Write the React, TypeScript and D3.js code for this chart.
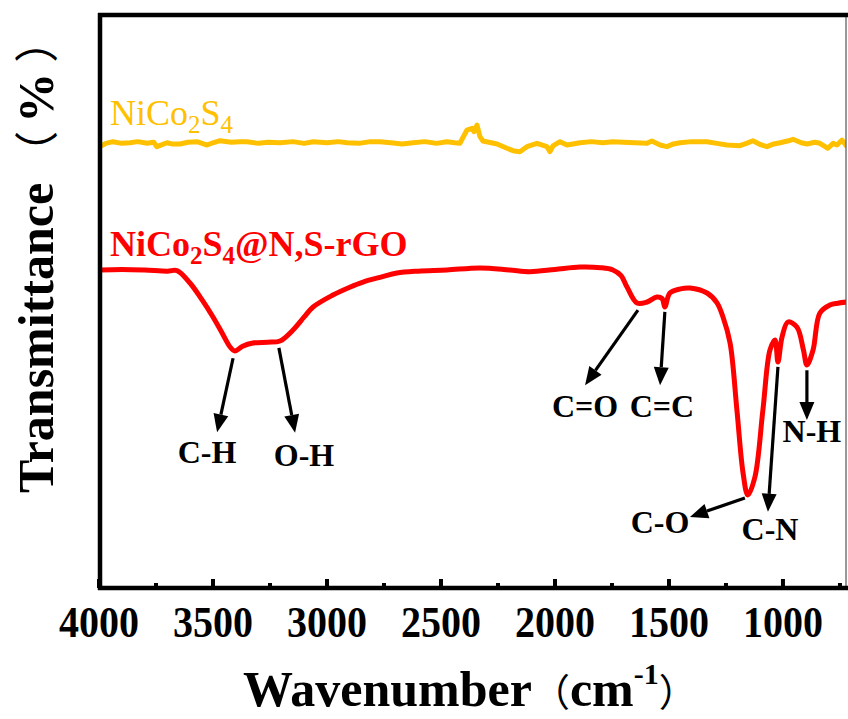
import React from "react";
import * as d3 from "d3";

const W = 848;
const H = 719;
const margin = { left: 100, right: 846, top: 15, bottom: 588 };

const majorTicks = [4000, 3500, 3000, 2500, 2000, 1500, 1000];
const minorTicks = [3750, 3250, 2750, 2250, 1750, 1250, 750];

// NiCo2S4 (yellow)
const yellowWn = [3996, 3970, 3939, 3900, 3864, 3830, 3789, 3760, 3746, 3702, 3680, 3645, 3610, 3570, 3526, 3500, 3469, 3420, 3380, 3351, 3300, 3260, 3206, 3150, 3100, 3061, 3000, 2950, 2912, 2860, 2810, 2768, 2720, 2670, 2623, 2570, 2520, 2474, 2440, 2417, 2386, 2364, 2355, 2342, 2329, 2316, 2280, 2254, 2211, 2184, 2154, 2123, 2079, 2035, 2022, 2009, 1978, 1947, 1890, 1840, 1790, 1746, 1700, 1650, 1596, 1575, 1539, 1509, 1480, 1452, 1400, 1333, 1290, 1246, 1189, 1160, 1132, 1100, 1070, 1040, 1013, 980, 956, 920, 895, 860, 838, 803, 780, 763, 741, 719];
const yellowT = [77.02, 77.6, 77.89, 77.6, 77.71, 77.9, 77.61, 77.8, 77.02, 77.71, 77.5, 77.49, 77.8, 77.89, 77.31, 77.7, 78.06, 77.8, 77.9, 77.89, 77.6, 77.8, 77.71, 77.9, 77.6, 77.89, 77.7, 77.9, 77.71, 77.6, 77.9, 77.89, 77.7, 77.5, 77.71, 77.9, 77.6, 77.89, 77.7, 77.61, 79.93, 80.23, 79.63, 80.8, 78.76, 78.01, 77.7, 77.49, 76.74, 76.32, 76.14, 77.02, 77.61, 77.02, 76.14, 77.14, 77.89, 77.31, 77.71, 77.9, 77.7, 77.89, 77.8, 77.7, 77.61, 78.01, 77.31, 77.02, 77.5, 77.71, 77.9, 77.89, 77.6, 77.31, 77.19, 77.6, 78.06, 77.4, 77.02, 77.5, 77.71, 78.0, 78.31, 77.7, 77.49, 77.8, 77.61, 76.74, 77.6, 77.31, 78.18, 77.02];

// NiCo2S4@N,S-rGO (red)
const redWn = [3996, 3900, 3800, 3700, 3658, 3601, 3550, 3500, 3460, 3425, 3404, 3370, 3325, 3260, 3206, 3149, 3100, 3061, 2974, 2900, 2842, 2760, 2693, 2600, 2474, 2329, 2200, 2110, 2000, 1890, 1800, 1746, 1710, 1684, 1640, 1596, 1553, 1530, 1518, 1496, 1450, 1408, 1333, 1290, 1263, 1232, 1202, 1175, 1154, 1123, 1088, 1057, 1035, 1022, 1004, 978, 939, 910, 895, 868, 838, 794, 760, 719];
const redT = [55.5, 55.6, 55.5, 55.3, 55.4, 53.23, 50.4, 47.29, 44.5, 42.06, 41.36, 42.2, 42.76, 42.9, 43.11, 45.03, 47.3, 49.04, 51.13, 52.5, 53.4, 54.3, 54.97, 55.3, 55.5, 55.85, 55.5, 55.2, 55.6, 56.02, 55.9, 55.5, 54.5, 52.53, 49.74, 49.91, 50.79, 50.5, 49.04, 51.48, 52.2, 52.36, 51.48, 49.8, 47.29, 42.76, 31.06, 20.07, 16.23, 19.37, 31.06, 41.54, 43.28, 39.44, 43.8, 46.42, 45.55, 41.5, 38.92, 41.54, 47.99, 49.39, 49.7, 49.91];

// annotations
const annoLabels = ["C-H", "O-H", "C=O", "C=C", "C-O", "C-N", "N-H"];
const annoFromWn = [3412, 3211, 1636, 1518, 1167, 1022, 895];
const annoFromT = [40.1, 41.9, 48.5, 48.2, 15.7, 38.6, 38.0];
const annoToWn = [3482, 3140, 1868, 1539, 1408, 1066, 895];
const annoToT = [27.2, 27.1, 35.4, 35.4, 12.4, 13.3, 29.3];
const annoLabelWn = [3526, 3101, 1868, 1531, 1539, 1057, 873];
const annoLabelT = [21.8, 21.3, 29.8, 29.8, 9.6, 8.4, 25.5];

const YELLOW = "#FFC000";
const RED = "#FF0000";
const FONT = "'Liberation Serif', 'Times New Roman', serif";
const CJK = "'Noto Sans CJK SC'";

export default function App() {
  const x = d3.scaleLinear().domain([4000, 720]).range([99, 846.8]);
  const y = d3.scaleLinear().domain([0, 100]).range([margin.bottom, margin.top]);

  const yellowData = yellowWn.map((w, i) => [w, yellowT[i]] as [number, number]);
  const redData = redWn.map((w, i) => [w, redT[i]] as [number, number]);

  const lineLin = d3.line<[number, number]>().x((d) => x(d[0])).y((d) => y(d[1]));
  const lineSmooth = d3
    .line<[number, number]>()
    .x((d) => x(d[0]))
    .y((d) => y(d[1]))
    .curve(d3.curveCatmullRom.alpha(0.5));

  const arrows = annoLabels.map((lab, i) => {
    const x1 = x(annoFromWn[i]);
    const y1 = y(annoFromT[i]);
    const x2 = x(annoToWn[i]);
    const y2 = y(annoToT[i]);
    const ang = Math.atan2(y2 - y1, x2 - x1);
    const hl = 18;
    const hw = 7.5;
    const bx = x2 - hl * Math.cos(ang);
    const by = y2 - hl * Math.sin(ang);
    const px = -Math.sin(ang);
    const py = Math.cos(ang);
    const head = `M${x2},${y2}L${bx + hw * px},${by + hw * py}L${bx - hw * px},${by - hw * py}Z`;
    return { lab, x1, y1, bx, by, head, lx: x(annoLabelWn[i]), ly: y(annoLabelT[i]) };
  });

  return (
    <svg
      width={W}
      height={H}
      style={{ position: "absolute", left: 0, top: 0, background: "#fff" }}
      fontFamily={FONT}
    >
      <rect x={0} y={0} width={W} height={H} fill="#fff" />
      <defs>
        <clipPath id="plotclip">
          <rect x={margin.left} y={margin.top} width={margin.right - margin.left} height={margin.bottom - margin.top} />
        </clipPath>
      </defs>

      {/* series */}
      <g clipPath="url(#plotclip)">
        <path d={lineLin(yellowData) || ""} fill="none" stroke={YELLOW} strokeWidth={5} strokeLinejoin="round" />
        <path d={lineSmooth(redData) || ""} fill="none" stroke={RED} strokeWidth={5} strokeLinejoin="round" />
      </g>

      {/* frame */}
      <line x1={margin.right} x2={margin.right} y1={margin.top} y2={margin.bottom} stroke="#555" strokeWidth={1.2} />
      <line x1={margin.left - 2} x2={W} y1={margin.top} y2={margin.top} stroke="#000" strokeWidth={4.5} />
      <line x1={margin.left - 2} x2={W} y1={margin.bottom} y2={margin.bottom} stroke="#000" strokeWidth={4.5} />
      <line x1={margin.left} x2={margin.left} y1={margin.top - 2} y2={margin.bottom + 2} stroke="#000" strokeWidth={4.5} />

      {/* ticks */}
      {majorTicks.map((t) => (
        <line key={"M" + t} x1={x(t)} x2={x(t)} y1={margin.bottom} y2={margin.bottom - 9} stroke="#000" strokeWidth={4} />
      ))}
      {minorTicks.map((t) => (
        <line key={"m" + t} x1={x(t)} x2={x(t)} y1={margin.bottom} y2={margin.bottom - 5} stroke="#000" strokeWidth={4} />
      ))}
      {majorTicks.map((t) => (
        <text key={"L" + t} x={x(t)} y={637} textAnchor="middle" fontSize={44} fontWeight="bold" textLength={80} lengthAdjust="spacingAndGlyphs">
          {t}
        </text>
      ))}

      {/* axis titles */}
      <text x={243} y={706} fontSize={50} fontWeight="bold">
        Wavenumber
        <tspan fontFamily={CJK} fontWeight="normal" fontSize={38}>（</tspan>
        <tspan>cm</tspan>
        <tspan fontSize={30} dy={-22}>-1</tspan>
        <tspan fontFamily={CJK} fontWeight="normal" fontSize={38} dy={22}>）</tspan>
      </text>
      <text transform="translate(53,493) rotate(-90)" fontSize={50} fontWeight="bold">
        Transmittance
        <tspan fontFamily={CJK} fontWeight="normal" fontSize={44} dx={8}>（</tspan>
        <tspan dx={8}>%</tspan>
        <tspan fontFamily={CJK} fontWeight="normal" fontSize={44} dx={10}>）</tspan>
      </text>

      {/* series labels */}
      <text x={110} y={125} fontSize={36} fill={YELLOW}>
        NiCo<tspan fontSize={25} dy={8}>2</tspan>
        <tspan dy={-8}>S</tspan>
        <tspan fontSize={25} dy={8}>4</tspan>
      </text>
      <text x={110} y={256} fontSize={36} fontWeight="bold" fill={RED}>
        NiCo<tspan fontSize={25} dy={8}>2</tspan>
        <tspan dy={-8}>S</tspan>
        <tspan fontSize={25} dy={8}>4</tspan>
        <tspan dy={-8}>@N,S-rGO</tspan>
      </text>

      {/* annotations */}
      {arrows.map((a) => (
        <g key={a.lab}>
          <line x1={a.x1} y1={a.y1} x2={a.bx} y2={a.by} stroke="#000" strokeWidth={3.2} />
          <path d={a.head} fill="#000" />
          <text x={a.lx} y={a.ly} textAnchor="middle" fontSize={32} fontWeight="bold">
            {a.lab}
          </text>
        </g>
      ))}
    </svg>
  );
}
